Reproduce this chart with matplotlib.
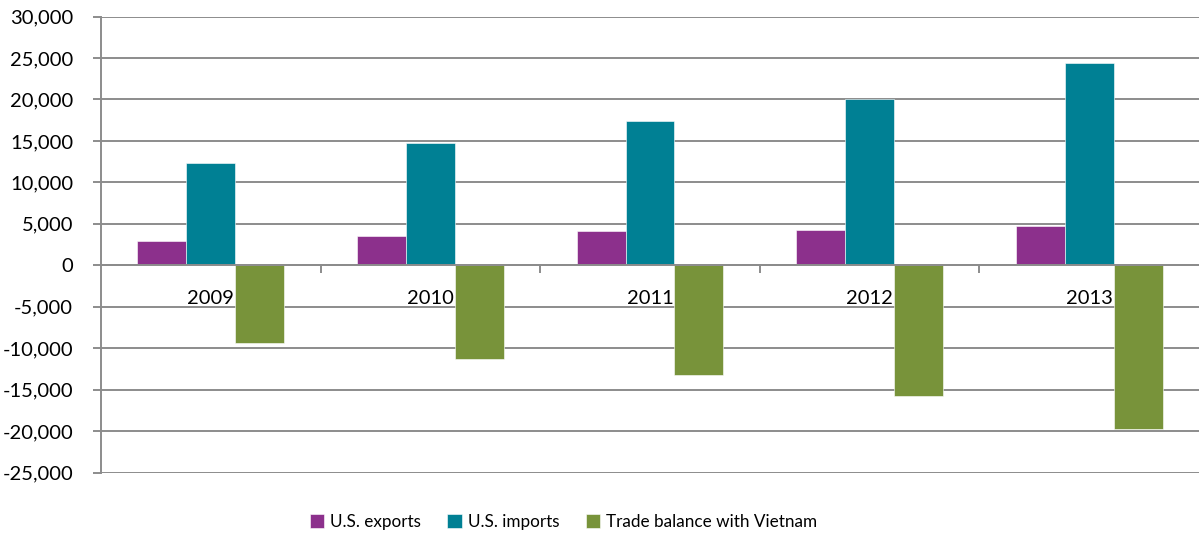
import numpy as np
import matplotlib.pyplot as plt
from matplotlib.ticker import FuncFormatter, MultipleLocator

years = ["2009", "2010", "2011", "2012", "2013"]
exports = [2930, 3500, 4100, 4300, 4700]
imports = [12330, 14740, 17350, 20080, 24380]
balance = [-9360, -11240, -13250, -15750, -19680]

series_names = ["U.S. exports", "U.S. imports", "Trade balance with Vietnam"]
colors = ["#8C308C", "#008094", "#78933A"]
grid_color = "#8C8C8C"

plt.rcParams['font.family'] = ['Lato', 'DejaVu Sans']
fs = 14.5

fig = plt.figure(figsize=(11.99, 5.41), dpi=100)
ax = fig.add_axes([101 / 1199, 1 - 472.7 / 541, 1 - 101 / 1199, (472.7 - 16.5) / 541])

x = np.arange(len(years))
w = 0.223
for i, (vals, name) in enumerate(zip([exports, imports, balance], series_names)):
    ax.bar(x + (i - 1) * w, vals, width=w, color=colors[i], label=name,
           edgecolor="white", linewidth=0.4, zorder=3)

ax.set_xlim(-0.5, len(years) - 0.5)
ax.set_ylim(-25000, 30000)
ax.yaxis.set_major_locator(MultipleLocator(5000))
ax.yaxis.set_major_formatter(FuncFormatter(lambda v, p: f"{int(v):,}"))
ax.grid(axis="y", color=grid_color, linewidth=1.4, zorder=0)

for s in ["top", "right"]:
    ax.spines[s].set_visible(False)
ax.spines["left"].set_color(grid_color)
ax.spines["left"].set_linewidth(1.4)
ax.spines["bottom"].set_position(("data", 0))
ax.spines["bottom"].set_color(grid_color)
ax.spines["bottom"].set_linewidth(1.4)
ax.spines["bottom"].set_zorder(4)

ax.set_xticks(x)
ax.set_xticklabels(years)
ax.set_xticks(np.arange(0.5, len(years) - 0.5, 1), minor=True)
ax.tick_params(axis="x", which="major", length=0, pad=18, labelsize=fs)
ax.tick_params(axis="x", which="minor", length=6, width=1.4, color=grid_color, direction="out")
ax.tick_params(axis="y", length=6, width=1.4, color=grid_color, pad=14, labelsize=fs)

leg = fig.legend(loc="center", bbox_to_anchor=(0.47, 1 - 522 / 541), ncol=3, frameon=False,
                 fontsize=12.3, handlelength=0.85, handleheight=0.85, handletextpad=0.35,
                 columnspacing=1.55)

fig.savefig("out.png", dpi=100)
